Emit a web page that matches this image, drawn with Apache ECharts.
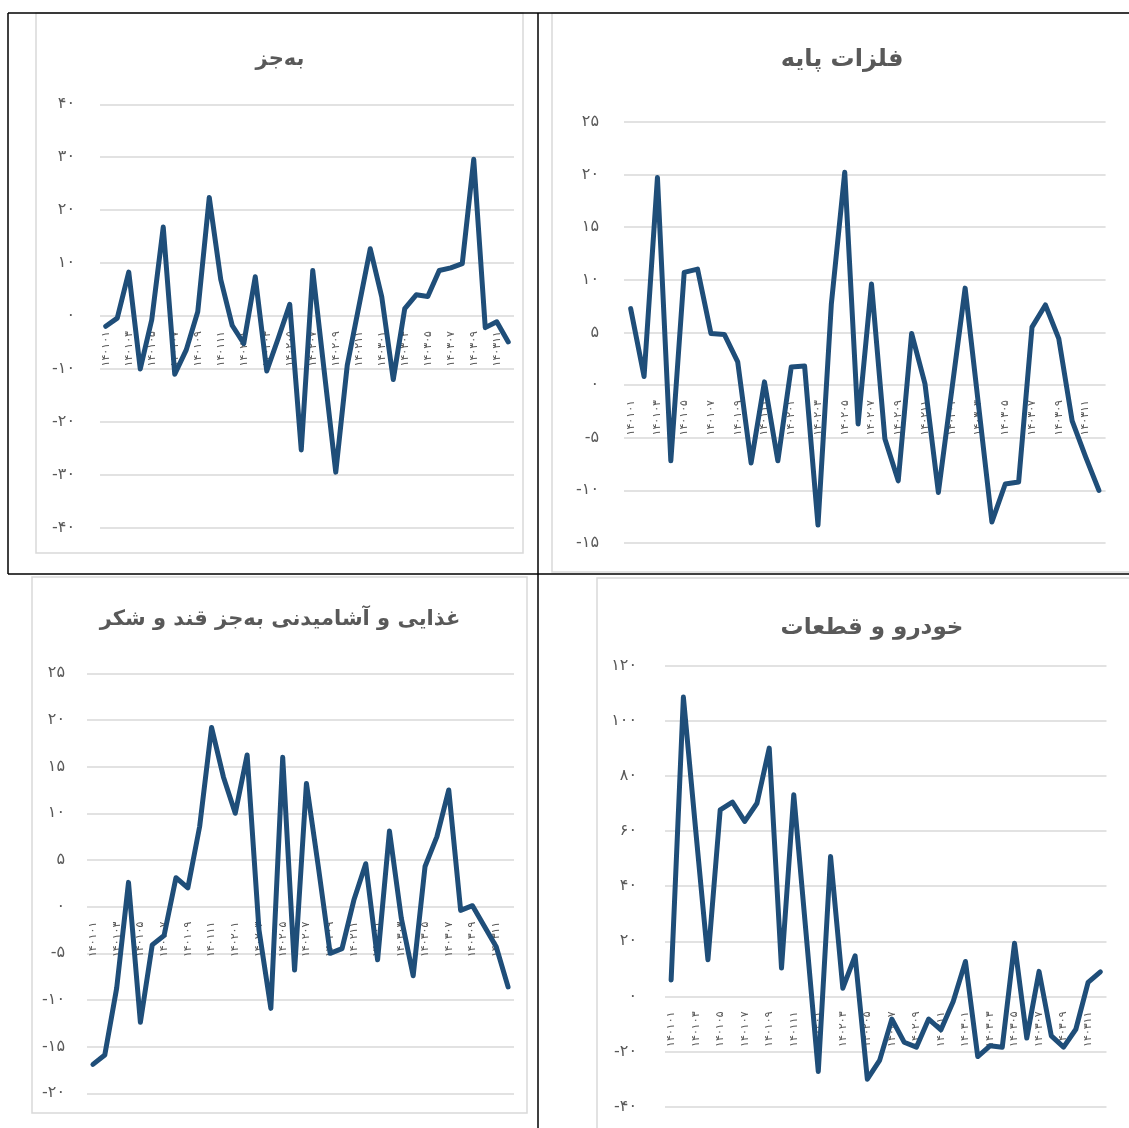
<!DOCTYPE html>
<html>
<head>
<meta charset="utf-8">
<script src="https://cdn.jsdelivr.net/npm/echarts@6/dist/echarts.min.js"></script>
<style>
html,body{margin:0;padding:0;background:#fff;}
#c{width:1129px;height:1128px;}
</style>
</head>
<body>
<div id="c"></div>
<script>
// Categories (year+month, Persian digits)
const categories = [
  '۱۴۰۱۰۱','۱۴۰۱۰۲','۱۴۰۱۰۳','۱۴۰۱۰۴','۱۴۰۱۰۵','۱۴۰۱۰۶','۱۴۰۱۰۷','۱۴۰۱۰۸','۱۴۰۱۰۹','۱۴۰۱۱۰','۱۴۰۱۱۱','۱۴۰۱۱۲',
  '۱۴۰۲۰۱','۱۴۰۲۰۲','۱۴۰۲۰۳','۱۴۰۲۰۴','۱۴۰۲۰۵','۱۴۰۲۰۶','۱۴۰۲۰۷','۱۴۰۲۰۸','۱۴۰۲۰۹','۱۴۰۲۱۰','۱۴۰۲۱۱','۱۴۰۲۱۲',
  '۱۴۰۳۰۱','۱۴۰۳۰۲','۱۴۰۳۰۳','۱۴۰۳۰۴','۱۴۰۳۰۵','۱۴۰۳۰۶','۱۴۰۳۰۷','۱۴۰۳۰۸','۱۴۰۳۰۹','۱۴۰۳۱۰','۱۴۰۳۱۱','۱۴۰۳۱۲'
];

// Panel titles
const titles = ['به‌جز', 'فلزات پایه', 'غذایی و آشامیدنی به‌جز قند و شکر', 'خودرو و قطعات'];

// Series values
const bajozValues = [-1.95, -0.4, 8.3, -10.0, -0.7, 16.8, -11.0, -6.4, 0.8, 22.4, 6.9, -1.8,
  -5.2, 7.4, -10.4, -4.2, 2.2, -25.3, 8.6, -10.5, -29.5, -9.3, 1.7, 12.7,
  3.6, -12.0, 1.4, 4.0, 3.7, 8.6, 9.1, 9.9, 29.6, -2.2, -1.1, -4.9];

const baseMetalsValues = [7.25, 0.8, 19.7, -7.2, 10.7, 11.0, 4.9, 4.8, 2.2, -7.4, 0.3, -7.2,
  1.7, 1.8, -13.3, 7.7, 20.2, -3.7, 9.6, -5.1, -9.1, 4.9, 0.1, -10.2,
  -0.5, 9.2, -1.9, -13.0, -9.4, -9.2, 5.5, 7.6, 4.4, -3.4, -6.8, -10.0];

const foodValues = [-16.9, -15.9, -8.75, 2.6, -12.4, -4.1, -3.1, 3.1, 2.0, 8.6, 19.2, 13.9,
  10.0, 16.25, -2.5, -10.9, 16.0, -6.8, 13.2, 4.3, -5.0, -4.5, 0.7, 4.6,
  -5.7, 8.1, -1.25, -7.4, 4.3, 7.5, 12.5, -0.4, 0.1, -2.1, -4.3, -8.6];

const autoValues = [6.0, 108.6, 60.5, 13.3, 67.7, 70.5, 63.5, 70.1, 90.1, 10.3, 73.2, 23.0,
  -27.2, 50.8, 3.0, 14.75, -30.0, -23.2, -8.2, -16.6, -18.4, -8.2, -12.1, -1.8,
  12.7, -21.8, -17.9, -18.4, 19.3, -15.1, 9.1, -14.3, -18.4, -11.9, 5.1, 8.9];

// Value axis ranges (min, max, interval)
const yMins = [-40, -15, -20, -40];
const yMaxs = [40, 25, 25, 120];
const yIntervals = [10, 5, 5, 20];

const seriesValues = [bajozValues, baseMetalsValues, foodValues, autoValues];

// layout
const grids = [
  {left: 100, top: 104.3, width: 414, height: 423.4},
  {left: 624, top: 121.7, width: 481.6, height: 421.3},
  {left: 87, top: 673.3, width: 427, height: 420},
  {left: 665, top: 665.7, width: 441.5, height: 441}
];
const yLabelMargins = [25, 25, 22, 28];
const titlePos = [[280, 60], [842, 60], [280, 620], [872, 628]];
const titleSizes = [21, 24, 21, 23];

const FONT = 'DejaVu Sans';
const GREY = '#595959';
const toFa = v => String(v).replace(/\d/g, d => '۰۱۲۳۴۵۶۷۸۹'[+d]);

// category axis sits on the zero line of its value axis
const zeroOffset = i => -grids[i].height * (-yMins[i]) / (yMaxs[i] - yMins[i]);

const option = {
  backgroundColor: '#ffffff',
  animation: false,
  title: titles.map((t, i) => ({
    text: t,
    left: titlePos[i][0],
    top: titlePos[i][1],
    textAlign: 'center',
    textVerticalAlign: 'middle',
    padding: 0,
    textStyle: {fontFamily: FONT, fontSize: titleSizes[i], fontWeight: 'bold', color: GREY}
  })),
  grid: grids,
  xAxis: grids.map((g, i) => ({
    type: 'category',
    gridIndex: i,
    data: categories,
    boundaryGap: true,
    position: 'bottom',
    offset: zeroOffset(i),
    axisLine: {show: false, onZero: false},
    axisTick: {show: false},
    axisLabel: {
      interval: 1, rotate: 90, margin: 15,
      fontFamily: FONT, fontSize: 11, color: GREY
    },
    splitLine: {show: false}
  })),
  yAxis: grids.map((g, i) => ({
    type: 'value',
    gridIndex: i,
    min: yMins[i], max: yMaxs[i], interval: yIntervals[i],
    axisLine: {show: false},
    axisTick: {show: false},
    axisLabel: {
      margin: yLabelMargins[i],
      fontFamily: FONT, fontSize: 16, color: GREY,
      padding: [0, 0, 8, 0],
      formatter: v => toFa(v)
    },
    splitLine: {show: true, lineStyle: {color: '#d9d9d9', width: 1.5}}
  })),
  series: seriesValues.map((vals, i) => ({
    type: 'line',
    xAxisIndex: i, yAxisIndex: i,
    data: vals,
    showSymbol: false,
    symbol: 'none',
    lineStyle: {color: '#1F4E79', width: 5, join: 'round', cap: 'round'},
    itemStyle: {color: '#1F4E79'}
  })),
  graphic: [
    // chart frames
    {type: 'rect', shape: {x: 36, y: 13, width: 487, height: 540}, style: {fill: 'none', stroke: '#d9d9d9', lineWidth: 1.5}, silent: true, z: -1},
    {type: 'rect', shape: {x: 552, y: 13, width: 620, height: 559}, style: {fill: 'none', stroke: '#d9d9d9', lineWidth: 1.5}, silent: true, z: -1},
    {type: 'rect', shape: {x: 32, y: 577, width: 495, height: 536}, style: {fill: 'none', stroke: '#d9d9d9', lineWidth: 1.5}, silent: true, z: -1},
    {type: 'rect', shape: {x: 597, y: 578, width: 620, height: 600}, style: {fill: 'none', stroke: '#d9d9d9', lineWidth: 1.5}, silent: true, z: -1},
    // table borders
    {type: 'line', shape: {x1: 8, y1: 13, x2: 1129, y2: 13}, style: {stroke: '#000', lineWidth: 1.5}, silent: true},
    {type: 'line', shape: {x1: 8, y1: 13, x2: 8, y2: 574}, style: {stroke: '#000', lineWidth: 1.5}, silent: true},
    {type: 'line', shape: {x1: 538, y1: 13, x2: 538, y2: 1128}, style: {stroke: '#000', lineWidth: 1.5}, silent: true},
    {type: 'line', shape: {x1: 8, y1: 574, x2: 1129, y2: 574}, style: {stroke: '#000', lineWidth: 1.5}, silent: true}
  ]
};

const chart = echarts.init(document.getElementById('c'), null, {renderer: 'canvas'});
chart.setOption(option);
</script>
</body>
</html>
